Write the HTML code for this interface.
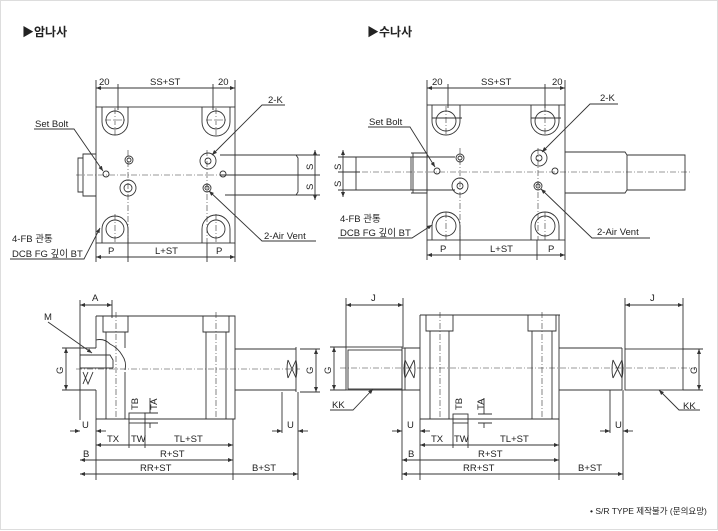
<!DOCTYPE html>
<html><head><meta charset="utf-8"><style>
html,body{margin:0;padding:0;background:#fff}
svg{display:block}
text{font-family:"Liberation Sans","Noto Sans CJK KR",sans-serif;fill:#222}
</style></head><body>
<svg width="718" height="531" viewBox="0 0 718 531" xmlns="http://www.w3.org/2000/svg">
<defs>
<marker id="a" markerWidth="6" markerHeight="6" refX="5" refY="3" orient="auto-start-reverse" markerUnits="userSpaceOnUse"><path d="M0,1 L5,3 L0,5z" fill="#333"/></marker>
</defs>
<rect x="0.5" y="0.5" width="717" height="529" fill="none" stroke="#ddd"/>
<text x="22" y="36" font-size="12" font-weight="bold">▶암나사</text>
<text x="367" y="36" font-size="12" font-weight="bold">▶수나사</text>

<g stroke="#333" stroke-width="0.9" fill="none">
<!-- ============ TOP LEFT ============ -->
<rect x="96" y="107" width="139" height="136"/>
<path d="M102,107 V122 A13,13 0 0 0 128,122 V107"/>
<path d="M202,107 V122 A14,14 0 0 0 230,122 V107"/>
<circle cx="115" cy="120" r="9"/><circle cx="216" cy="120" r="9"/>
<path d="M102,243 V229 A13,13 0 0 1 128,229 V243"/>
<path d="M202,243 V229 A14,14 0 0 1 230,229 V243"/>
<circle cx="115" cy="229" r="9"/><circle cx="216" cy="229" r="9"/>
<path d="M96,154 H83 V196 H96 M78,158 H83 V192 H78z"/>
<path d="M235,155 H296 L298,158 V192 L296,195 H235"/>
<circle cx="106" cy="174" r="3"/>
<circle cx="129" cy="160" r="4"/><circle cx="129" cy="160" r="2"/>
<circle cx="128" cy="188" r="8"/><circle cx="128" cy="188" r="4"/>
<circle cx="208" cy="161" r="8"/><circle cx="208" cy="161" r="3"/>
<circle cx="207" cy="188" r="4"/><circle cx="207" cy="188" r="2"/>
<circle cx="223" cy="174" r="3"/>
<g stroke-dasharray="6,2,1,2" stroke-width="0.6"><path d="M76,175 H300 M128,150 V243 M207,150 V243 M115,108 V135 M216,108 V135 M115,214 V243 M216,214 V243 M105,120 H125 M206,120 H226"/></g>
<path d="M96,80 V107 M118,84 V110 M213,84 V110 M235,80 V107"/>
<path d="M96,88 H235" marker-start="url(#a)" marker-end="url(#a)"/>
<path d="M220,155 H320 M220,175 H320 M225,195 H320"/>
<path d="M315,150 V200" marker-start="url(#a)" marker-end="url(#a)"/>
<path d="M96,243 V262 M128,243 V262 M207,243 V262 M235,243 V262"/>
<path d="M96,257 H235" marker-start="url(#a)" marker-end="url(#a)"/>
<path d="M34,129 H74 L103,171" marker-end="url(#a)"/>
<path d="M285,105 H262 L212,155" marker-end="url(#a)"/>
<path d="M316,241 H262 L209,191" marker-end="url(#a)"/>
<path d="M10,259 H84 L100,228" marker-end="url(#a)"/>

<!-- ============ TOP RIGHT ============ -->
<rect x="427" y="105" width="138" height="135"/>
<path d="M432,105 V121 A14,14 0 0 0 460,121 V105"/>
<path d="M531,105 V121 A14,14 0 0 0 559,121 V105"/>
<circle cx="446" cy="121" r="10"/><circle cx="545" cy="121" r="10"/>
<path d="M432,118 H462 M531,118 H561"/>
<path d="M432,240 V226 A14,14 0 0 1 460,226 V240"/>
<path d="M531,240 V226 A14,14 0 0 1 559,226 V240"/>
<circle cx="446" cy="226" r="10"/><circle cx="545" cy="226" r="10"/>
<path d="M356,157 H411 V190 H356z M411,153 H427 V193 H411 M413,153 V193"/>
<path d="M565,152 H625 L627,155 V190 L625,193 H565 M627,155 H685 V190 H627"/>
<circle cx="437" cy="171" r="3"/>
<circle cx="460" cy="158" r="4"/><circle cx="460" cy="158" r="2"/>
<circle cx="460" cy="186" r="8"/><circle cx="460" cy="186" r="3"/>
<circle cx="539" cy="158" r="8"/><circle cx="539" cy="158" r="3"/>
<circle cx="538" cy="186" r="4"/><circle cx="538" cy="186" r="2"/>
<circle cx="555" cy="171" r="3"/>
<g stroke-dasharray="6,2,1,2" stroke-width="0.6"><path d="M340,172 H690 M460,148 V240 M538,148 V240 M446,106 V135 M545,106 V135 M446,212 V240 M545,212 V240"/></g>
<path d="M427,80 V105 M448,84 V108 M545,84 V108 M565,80 V105"/>
<path d="M427,88 H565" marker-start="url(#a)" marker-end="url(#a)"/>
<path d="M338,157 H455 M338,172 H360 M338,190 H455"/>
<path d="M343,150 V197" marker-start="url(#a)" marker-end="url(#a)"/>
<path d="M427,240 V260 M460,240 V260 M537,240 V260 M565,240 V260"/>
<path d="M427,255 H565" marker-start="url(#a)" marker-end="url(#a)"/>
<path d="M368,127 H410 L435,167" marker-end="url(#a)"/>
<path d="M618,104 H590 L542,152" marker-end="url(#a)"/>
<path d="M650,238 H592 L541,189" marker-end="url(#a)"/>
<path d="M338,238 H412 L432,225" marker-end="url(#a)"/>

<!-- ============ BOTTOM LEFT ============ -->
<path d="M96,316 H235 V419 H96 V390 M96,348 V316"/>
<path d="M103,316 V332 H128 V316 M106,332 V419 M125,332 V348 M125,372 V419"/>
<path d="M203,316 V332 H229 V316 M206,332 V419 M226,332 V419"/>
<path d="M96,340 Q104,338 110,344 Q118,348 122,355 Q127,362 125,370"/>
<path d="M80,348 H96 M80,390 H96 M80,348 V390 M80,355 H110 L113,360 V368 M80,368 H113"/>
<path d="M83,372 L88,384 L93,372 M83,384 L88,372"/>
<path d="M235,349 H296 M235,390 H296 M296,347 V392 M288,360 L296,378 M296,360 L288,378 M288,360 Q286,369 288,378 M296,360 Q298,369 296,378"/>
<g stroke-dasharray="6,2,1,2" stroke-width="0.6"><path d="M76,369 H300 M116,312 V419 M216,312 V419"/></g>
<rect x="129" y="413" width="16" height="10"/>
<path d="M80,300 V420 M112,300 V318"/>
<path d="M80,305 H112" marker-start="url(#a)" marker-end="url(#a)"/>
<path d="M62,348 H80 M62,390 H80 M300,349 H320 M300,392 H320"/>
<path d="M66,348 V390" marker-start="url(#a)" marker-end="url(#a)"/>
<path d="M316,349 V392" marker-start="url(#a)" marker-end="url(#a)"/>
<path d="M48,322 L92,353" marker-end="url(#a)"/>
<path d="M150,398 V413 M150,423 V428 M144,413 H158 M144,423 H158"/>
<path d="M96,419 V480 M233,419 V480 M129,423 V448 M145,423 V448 M298,392 V480 M282,392 V433"/>
<path d="M70,431 H80" marker-end="url(#a)"/><path d="M106,431 H96" marker-end="url(#a)"/>
<path d="M272,431 H282" marker-end="url(#a)"/><path d="M308,431 H298" marker-end="url(#a)"/>
<path d="M96,445 H233" marker-start="url(#a)" marker-end="url(#a)"/>
<path d="M80,460 H233" marker-start="url(#a)" marker-end="url(#a)"/>
<path d="M80,474 H298" marker-start="url(#a)" marker-end="url(#a)"/>

<!-- ============ BOTTOM RIGHT ============ -->
<path d="M420,315 H560 M420,315 V419 H559 V315"/>
<path d="M426,315 V331 H453 V315 M430,331 V419 M449,331 V419"/>
<path d="M528,315 V331 H556 V315 M532,331 V419 M552,331 V419"/>
<rect x="346" y="347" width="56" height="43"/>
<rect x="348" y="350" width="54" height="39"/>
<path d="M402,348 H420 M402,390 H420 M405,348 V390 M405,360 L414,378 M414,360 L405,378 M405,360 Q403,369 405,378 M414,360 Q416,369 414,378"/>
<path d="M559,348 H622 M559,390 H622 M622,348 V390 M613,360 L622,378 M622,360 L613,378 M613,360 Q611,369 613,378 M622,360 Q624,369 622,378"/>
<rect x="625" y="349" width="58" height="41"/>
<g stroke-dasharray="6,2,1,2" stroke-width="0.6"><path d="M340,368 H695 M440,312 V419 M542,312 V419"/></g>
<rect x="453" y="414" width="15" height="9"/>
<path d="M346,298 V347 M403,298 V347 M625,298 V349 M683,298 V349"/>
<path d="M346,305 H403" marker-start="url(#a)" marker-end="url(#a)"/>
<path d="M625,305 H683" marker-start="url(#a)" marker-end="url(#a)"/>
<path d="M330,347 H346 M330,390 H346 M683,349 H703 M683,390 H703"/>
<path d="M334,347 V390" marker-start="url(#a)" marker-end="url(#a)"/>
<path d="M699,349 V390" marker-start="url(#a)" marker-end="url(#a)"/>
<path d="M330,410 H353 L373,389" marker-end="url(#a)"/>
<path d="M700,410 H679 L659,390" marker-end="url(#a)"/>
<path d="M484,398 V414 M484,423 V428 M478,414 H492 M478,423 H492"/>
<path d="M402,390 V480 M420,419 V480 M559,419 V480 M453,423 V448 M468,423 V448 M623,390 V480 M610,390 V433"/>
<path d="M392,431 H402" marker-end="url(#a)"/><path d="M430,431 H420" marker-end="url(#a)"/>
<path d="M600,431 H610" marker-end="url(#a)"/><path d="M633,431 H623" marker-end="url(#a)"/>
<path d="M420,445 H559" marker-start="url(#a)" marker-end="url(#a)"/>
<path d="M402,460 H559" marker-start="url(#a)" marker-end="url(#a)"/>
<path d="M402,474 H623" marker-start="url(#a)" marker-end="url(#a)"/>
</g>

<g font-size="9.5">
<text x="99" y="85">20</text><text x="150" y="85">SS+ST</text><text x="218" y="85">20</text>
<text x="35" y="127">Set Bolt</text>
<text x="268" y="103">2-K</text>
<text x="264" y="239">2-Air Vent</text>
<text x="12" y="242">4-FB 관통</text>
<text x="12" y="257">DCB FG 깊이 BT</text>
<text x="108" y="254">P</text><text x="155" y="254">L+ST</text><text x="216" y="254">P</text>
<text transform="translate(313,170) rotate(-90)">S</text>
<text transform="translate(313,190) rotate(-90)">S</text>

<text x="432" y="85">20</text><text x="481" y="85">SS+ST</text><text x="552" y="85">20</text>
<text x="369" y="125">Set Bolt</text>
<text x="600" y="101">2-K</text>
<text x="597" y="235">2-Air Vent</text>
<text x="340" y="222">4-FB 관통</text>
<text x="340" y="236">DCB FG 깊이 BT</text>
<text x="440" y="252">P</text><text x="490" y="252">L+ST</text><text x="548" y="252">P</text>
<text transform="translate(341,170) rotate(-90)">S</text>
<text transform="translate(341,187) rotate(-90)">S</text>

<text x="92" y="301">A</text>
<text x="44" y="320">M</text>
<text transform="translate(63,374) rotate(-90)">G</text>
<text transform="translate(313,374) rotate(-90)">G</text>
<text transform="translate(138,410) rotate(-90)">TB</text>
<text transform="translate(157,410) rotate(-90)">TA</text>
<text x="82" y="428">U</text><text x="287" y="428">U</text>
<text x="107" y="442">TX</text><text x="131" y="442">TW</text><text x="174" y="442">TL+ST</text>
<text x="83" y="457">B</text><text x="160" y="457">R+ST</text>
<text x="140" y="471">RR+ST</text><text x="252" y="471">B+ST</text>

<text x="371" y="301">J</text><text x="650" y="301">J</text>
<text transform="translate(331,374) rotate(-90)">G</text>
<text transform="translate(697,374) rotate(-90)">G</text>
<text x="332" y="408">KK</text><text x="683" y="409">KK</text>
<text transform="translate(462,410) rotate(-90)">TB</text>
<text transform="translate(484,410) rotate(-90)">TA</text>
<text x="407" y="428">U</text><text x="615" y="428">U</text>
<text x="431" y="442">TX</text><text x="454" y="442">TW</text><text x="500" y="442">TL+ST</text>
<text x="408" y="457">B</text><text x="478" y="457">R+ST</text>
<text x="463" y="471">RR+ST</text><text x="578" y="471">B+ST</text>
</g>
<text x="590" y="514" font-size="8.5" fill="#333">• S/R TYPE 제작불가 (문의요망)</text>
</svg>
</body></html>
